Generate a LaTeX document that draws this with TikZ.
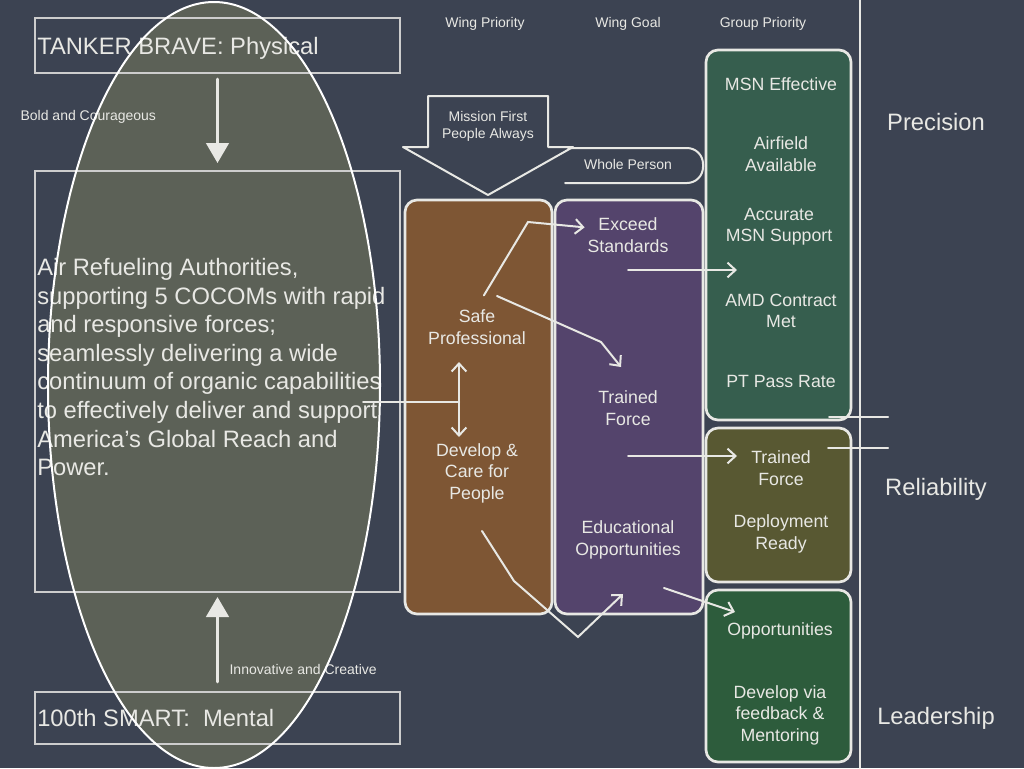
\documentclass[tikz,border=0pt]{standalone}
\usepackage{fontspec}
\setmainfont{Liberation Sans}
\usepackage{tikz}
\usetikzlibrary{arrows.meta, fit}
\definecolor{slate}{RGB}{60,67,82}
\definecolor{ovalgray}{RGB}{92,97,87}
\definecolor{chalk}{RGB}{232,232,228}
\definecolor{framegray}{RGB}{205,205,205}
\definecolor{rust}{RGB}{126,86,52}
\definecolor{plum}{RGB}{84,68,108}
\definecolor{pine}{RGB}{54,94,78}
\definecolor{moss}{RGB}{88,88,50}
\definecolor{fern}{RGB}{45,92,60}

\begin{document}
\begin{tikzpicture}[x=0.75pt, y=-0.75pt,
  chalkline/.style={draw=chalk, line width=1.5pt, line cap=round},
  framebox/.style={draw=framegray, line width=1.3pt, inner sep=0pt, outer sep=0pt},
  colbox/.style={draw=chalk, line width=2pt, rounded corners=9pt, inner sep=0pt, outer sep=0pt},
  txtbig/.style={text=chalk, font=\fontsize{17.8}{21.45}\selectfont, inner sep=0pt},
  txtbox/.style={text=chalk, font=\fontsize{13.3}{16.1}\selectfont, align=center, inner sep=2pt},
  txtsmall/.style={text=chalk, font=\fontsize{10.5}{12.8}\selectfont, align=center, inner sep=1pt},
  barbline/.style={chalkline, -{Straight Barb[length=6pt,width=11pt]}},
  bigarrow/.style={chalkline, line width=2pt, -{Triangle[length=15pt,width=17pt]}}]
  % Board and oval
  \fill[slate] (0,0) rectangle (1024,768);
  \useasboundingbox (0,0) rectangle (1024,768);
  \fill[ovalgray] (214,385) ellipse [x radius=166, y radius=383];

  % Mission statement frames
  \node[framebox, fit={(35,18) (400,73)}] (tankbox) {};
  \node[framebox, fit={(35,171) (400,592)}] (corebox) {};
  \node[framebox, fit={(35,692) (400,744)}] (smartbox) {};
  \node[txtbig, anchor=west] (tanker) at (37,48) {TANKER BRAVE: Physical};
  \node[txtbig, anchor=west] (smart) at (37,718) {100th SMART:\ \ Mental};
  \node[txtbig, anchor=north west, align=left] (statement) at (37,258)
    {Air Refueling Authorities,\\ supporting 5 COCOMs with rapid\\ and responsive forces;\\
     seamlessly delivering a wide\\ continuum of organic capabilities\\
     to effectively deliver and support\\ America’s Global Reach and\\ Power.};
  \node[txtsmall, anchor=west] (bold) at (19,117) {Bold and Courageous};
  \node[txtsmall, anchor=west] (innov) at (228,669) {Innovative and Creative};
  \draw[bigarrow, shorten <=4.5pt, shorten >=6pt] (tankbox.south) -- (corebox.north);
  \draw[bigarrow, shorten <=7.5pt, shorten >=3.75pt] (smartbox.north) -- (corebox.south);
  \draw[draw=white, line width=1.5pt] (214,385) ellipse [x radius=166, y radius=383];

  % Column headings
  \foreach \x/\t [count=\i] in {485/Wing Priority, 628/Wing Goal, 763/Group Priority}
    \node[txtsmall] (head\i) at (\x,24) {\t};

  % Block arrow and whole person
  \draw[chalkline, line join=round] (428,147) -- (428,96) -- (548,96) -- (548,147)
    -- (573,147) -- (488,195) -- (403,147) -- cycle;
  \node[txtsmall] (motto) at (488,126) {Mission First\\People Always};
  \draw[chalkline, rounded corners=12pt] (568,148) -- (703,148) -- (703,183) -- (565,183);
  \node[txtsmall] (whole) at (628,164) {Whole Person};

  % Coloured columns
  \node[colbox, fill=rust, fit={(405,200) (552,614)}] (wingpri) {};
  \node[colbox, fill=plum, fit={(555,200) (703,614)}] (winggoal) {};
  \node[colbox, fill=pine, fit={(706,50) (851,420)}] (grpA) {};
  \node[colbox, fill=moss, fit={(706,428) (851,582)}] (grpB) {};
  \node[colbox, fill=fern, fit={(706,590) (851,762)}] (grpC) {};

  \node[txtbox] (safe) at (477,327) {Safe\\Professional};
  \node[txtbox] (dcare) at (477,473) {Develop \&\\Care for\\People};
  \node[txtbox] (exceed) at (628,235) {Exceed\\Standards};
  \node[txtbox] (tforce) at (628,408) {Trained\\Force};
  \node[txtbox] (educ) at (628,540) {Educational\\Opportunities};
  \node[txtbox] (msn) at (781,84) {MSN Effective};
  \node[txtbox] (airfield) at (781,154) {Airfield\\Available};
  \node[txtbox] (accurate) at (779,227) {Accurate\\MSN Support};
  \node[txtbox] (amd) at (781,311) {AMD Contract\\Met};
  \node[txtbox] (ptpass) at (781,381) {PT Pass Rate};
  \node[txtbox] (gtforce) at (781,468) {Trained\\Force};
  \node[txtbox] (deploy) at (781,534) {Deployment\\Ready};
  \node[txtbox] (opps) at (780,631) {Opportunities};
  \node[txtbox] (mentor) at (780,715) {Develop via\\feedback \&\\Mentoring};

  % Core values
  \foreach \y/\t [count=\i] in {122/Precision, 489/Reliability, 718/Leadership}
    \node[txtbig] (value\i) at (936,\y) {\t};
  \draw[chalkline, line width=1pt] (860,0) -- (860,768);

  % Links
  \coordinate (paraOut) at (363,402);
  \coordinate (dblTop) at (459,362);
  \coordinate (dblBot) at (459,437);
  \draw[chalkline] (paraOut) -- (paraOut -| dblTop);
  \draw[chalkline, {Straight Barb[length=6pt,width=11pt]}-{Straight Barb[length=6pt,width=11pt]}]
    (dblTop) -- (dblBot);

  \coordinate (spBend) at (528,222);
  \draw[barbline, shorten <=10pt] (safe.north) -- (spBend) -- (exceed.170);
  \coordinate (tfStart) at (497,296);
  \coordinate (tfBend) at (601,342);
  \coordinate (tfTip) at (621,367);
  \draw[barbline] (tfStart) -- (tfBend) -- (tfTip);
  \coordinate (dcStart) at (482,531);
  \coordinate (dcBendA) at (514,581);
  \coordinate (dcBendB) at (578,637);
  \coordinate (edTip) at (623,594);
  \draw[barbline] (dcStart) -- (dcBendA) -- (dcBendB) -- (edTip);

  \coordinate (exTip) at (737,270);
  \draw[barbline] (exceed.south |- exTip) -- (exTip);
  \coordinate (gtTip) at (737,456);
  \draw[barbline] (tforce.south |- gtTip) -- (gtTip);
  \coordinate (edOut) at (664,588);
  \coordinate (opTip) at (735,612);
  \draw[barbline] (edOut) -- (opTip);

  \coordinate (stubA) at (829,417);
  \coordinate (stubB) at (828,448);
  \draw[chalkline] (stubA) -- (888,417);
  \draw[chalkline] (stubB) -- (888,448);
\end{tikzpicture}
\end{document}
